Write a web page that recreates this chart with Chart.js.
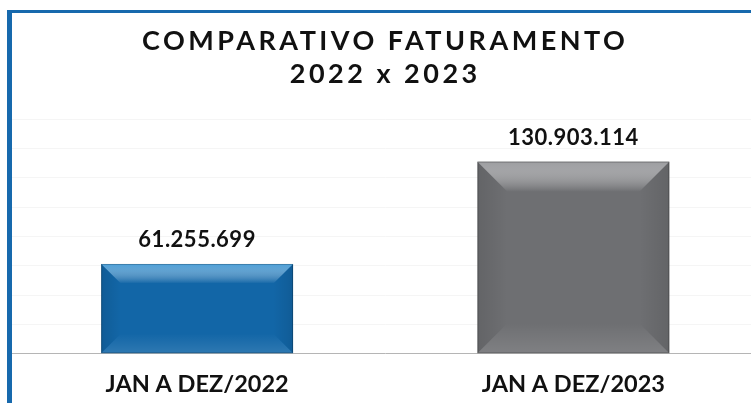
<!DOCTYPE html>
<html>
<head>
<meta charset="utf-8">
<script src="https://cdn.jsdelivr.net/npm/chart.js@4/dist/chart.umd.min.js"></script>
<style>
  html, body { margin: 0; padding: 0; background: #fff; }
  #wrap { position: relative; width: 751px; height: 403px; overflow: hidden; background: #fff; }
  #box { position: absolute; left: 0; top: 0; width: 770px; height: 420px; }
  #frame {
    position: absolute; left: 7px; top: 10px; width: 800px; height: 450px;
    border-left: 5px solid #1769ad; border-top: 3px solid #1769ad;
    pointer-events: none;
  }
</style>
</head>
<body>
<div id="wrap">
  <div id="box"><canvas id="myChart"></canvas></div>
  <div id="frame"></div>
</div>
<script>
// data
var categories = ['JAN A DEZ/2022', 'JAN A DEZ/2023'];
var faturamento = [61255699, 130903114];
var titleLines = ['COMPARATIVO FATURAMENTO', '2022 x 2023'];
var barColors = ['#1266a7', '#6e6f72'];
var bevelLight = ['#4a9fd9', '#9c9da0'];

var FONT = 'Lato, "DejaVu Sans", sans-serif';

function formatBR(v) {
  return String(Math.round(v)).replace(/\B(?=(\d{3})+(?!\d))/g, '.');
}

// letter spacing only for the title (tick labels are drawn after datasets, z: 1)
var spacingPlugin = {
  id: 'spacing',
  beforeDraw: function(chart) { chart.ctx.letterSpacing = '3.5px'; },
  beforeDatasetsDraw: function(chart) { chart.ctx.letterSpacing = '0px'; }
};

// bevel look on the bars, taken from the bar elements themselves
var bevelPlugin = {
  id: 'bevel',
  afterDatasetsDraw: function(chart) {
    var ctx = chart.ctx;
    var meta = chart.getDatasetMeta(0);
    meta.data.forEach(function(bar, i) {
      var l = bar.x - bar.width / 2, r = bar.x + bar.width / 2;
      var t = bar.y, b = bar.base;
      var h = b - t;
      var bv = Math.min(30, h * 0.22);
      ctx.save();
      // top
      var g = ctx.createLinearGradient(0, t, 0, t + bv);
      g.addColorStop(0, bevelLight[i]);
      g.addColorStop(1, 'rgba(255,255,255,0)');
      ctx.fillStyle = g;
      ctx.beginPath();
      ctx.moveTo(l, t); ctx.lineTo(r, t); ctx.lineTo(r - bv, t + bv); ctx.lineTo(l + bv, t + bv);
      ctx.closePath(); ctx.fill();
      // left
      var gl = ctx.createLinearGradient(l, 0, l + bv, 0);
      gl.addColorStop(0, 'rgba(0,0,0,0.10)');
      gl.addColorStop(1, 'rgba(0,0,0,0)');
      ctx.fillStyle = gl;
      ctx.beginPath();
      ctx.moveTo(l, t); ctx.lineTo(l + bv, t + bv); ctx.lineTo(l + bv, b - bv); ctx.lineTo(l, b);
      ctx.closePath(); ctx.fill();
      // right
      var gr = ctx.createLinearGradient(r, 0, r - bv, 0);
      gr.addColorStop(0, 'rgba(0,0,0,0.10)');
      gr.addColorStop(1, 'rgba(0,0,0,0)');
      ctx.fillStyle = gr;
      ctx.beginPath();
      ctx.moveTo(r, t); ctx.lineTo(r - bv, t + bv); ctx.lineTo(r - bv, b - bv); ctx.lineTo(r, b);
      ctx.closePath(); ctx.fill();
      // bottom
      var gb = ctx.createLinearGradient(0, b, 0, b - bv);
      gb.addColorStop(0, 'rgba(255,255,255,0.12)');
      gb.addColorStop(1, 'rgba(255,255,255,0)');
      ctx.fillStyle = gb;
      ctx.beginPath();
      ctx.moveTo(l, b); ctx.lineTo(l + bv, b - bv); ctx.lineTo(r - bv, b - bv); ctx.lineTo(r, b);
      ctx.closePath(); ctx.fill();
      // thin edge
      ctx.strokeStyle = 'rgba(0,0,0,0.22)';
      ctx.lineWidth = 1;
      ctx.strokeRect(l + 0.5, t + 0.5, r - l - 1, h - 1);
      ctx.restore();
    });
  }
};

// value labels above the bars
var valuePlugin = {
  id: 'values',
  afterDatasetsDraw: function(chart) {
    var ctx = chart.ctx;
    var meta = chart.getDatasetMeta(0);
    ctx.save();
    ctx.font = 'bold 22px ' + FONT;
    ctx.letterSpacing = '0.5px';
    ctx.fillStyle = '#111';
    ctx.textAlign = 'center';
    ctx.textBaseline = 'alphabetic';
    meta.data.forEach(function(bar, i) {
      ctx.fillText(formatBR(faturamento[i]), bar.x, bar.y - 17);
    });
    ctx.restore();
  }
};

var ctx = document.getElementById('myChart');
var myChart = new Chart(ctx, {
  type: 'bar',
  data: {
    labels: categories,
    datasets: [{
      data: faturamento,
      backgroundColor: barColors,
      borderWidth: 0,
      barPercentage: 0.51,
      categoryPercentage: 1
    }]
  },
  options: {
    responsive: true,
    maintainAspectRatio: false,
    animation: false,
    events: [],
    layout: { padding: { left: 9, right: 8.5, top: 0, bottom: 4 } },
    plugins: {
      legend: { display: false },
      tooltip: { enabled: false },
      title: {
        display: true,
        text: titleLines,
        color: '#111',
        font: { family: FONT, size: 27, weight: 'bold', lineHeight: 1.25 },
        padding: { top: 24, bottom: 27.5 }
      }
    },
    scales: {
      x: {
        grid: { display: false, drawTicks: false },
        border: { display: true, color: '#b5b5b5', width: 1 },
        ticks: {
          z: 1,
          color: '#111',
          padding: 17,
          font: { family: FONT, size: 23.5, weight: 'bold' }
        }
      },
      y: {
        min: 0,
        max: 160000000,
        ticks: { display: false, stepSize: 20000000 },
        border: { display: false },
        grid: { color: '#f5f5f5', drawTicks: false }
      }
    }
  },
  plugins: [spacingPlugin, bevelPlugin, valuePlugin]
});
</script>
</body>
</html>
